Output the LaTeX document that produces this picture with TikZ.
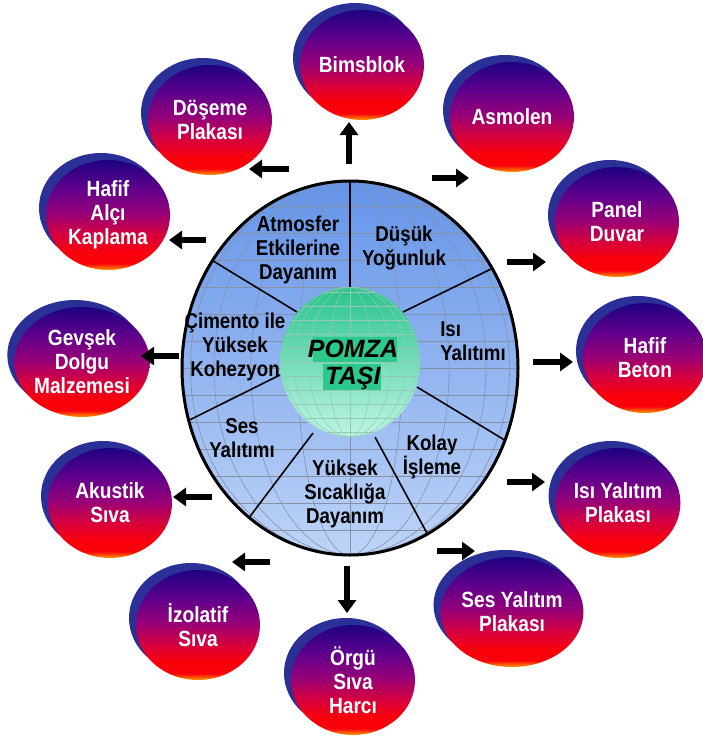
\documentclass[tikz,border=0pt]{standalone}
\usepackage{fontspec}
\setmainfont{Liberation Sans}
\newfontfamily\lblfont[FakeStretch=0.87]{Liberation Sans}
\usepackage{tikz}
\usetikzlibrary{positioning,shapes.geometric,shadows,arrows.meta}

\definecolor{discTop}{RGB}{100,148,232}
\definecolor{discBot}{RGB}{190,212,248}
\definecolor{gridGray}{RGB}{135,145,165}
\definecolor{coreTop}{RGB}{40,196,140}
\definecolor{coreMid}{RGB}{150,240,200}
\definecolor{coreBot}{RGB}{190,246,228}
\definecolor{coreBand}{RGB}{45,200,140}
\definecolor{coreGrid}{RGB}{150,200,180}
\definecolor{diskBack}{RGB}{42,48,150}
\definecolor{diskNavy}{RGB}{30,0,130}
\definecolor{diskViolet}{RGB}{95,0,140}
\definecolor{diskPurple}{RGB}{150,0,120}
\definecolor{diskCrimson}{RGB}{215,0,60}
\definecolor{diskRed}{RGB}{250,0,10}
\definecolor{diskOrange}{RGB}{255,160,0}

\pgfdeclareverticalshading{diskshade}{100bp}{color(0bp)=(diskOrange); color(25bp)=(diskOrange);
  color(28bp)=(diskRed); color(33bp)=(diskRed); color(41bp)=(diskCrimson); color(51bp)=(diskPurple);
  color(62bp)=(diskViolet); color(75bp)=(diskNavy); color(100bp)=(diskNavy)}

\tikzset{
  disk/.style={ellipse, minimum width=124pt, minimum height=110pt, inner sep=0pt, shade, shading=diskshade,
    general shadow={fill=diskBack, shadow xshift=-7pt, shadow yshift=7pt},
    text=white, align=center, font=\lblfont\fontsize{22}{24}\selectfont\bfseries},
  disc/.style={ellipse, minimum width=336pt, minimum height=374pt, inner sep=0pt, outer sep=0pt,
    top color=discTop, bottom color=discBot},
  core/.style={ellipse, minimum width=140pt, minimum height=150pt, inner sep=0pt, outer sep=0pt,
    top color=coreTop, middle color=coreMid, bottom color=coreBot},
  sector/.style={align=center, font=\lblfont\fontsize{21.5}{24}\selectfont\bfseries},
  sepline/.style={line width=1.6pt},
  gridline/.style={gridGray, line width=0.6pt},
  bigarrow/.style={line width=6pt, -{Triangle[width=18pt,length=13pt]}},
}

\begin{document}
\begin{tikzpicture}[x=1pt,y=-1pt]
  \useasboundingbox (0,0) rectangle (703,736);

  % buyuk elips
  \node[disc] (disc) at (350,368) {};
  \begin{scope}
    \clip (350,368) ellipse [x radius=168pt, y radius=187pt];
    \foreach \k in {0.31,0.59,0.81,0.95}
      \draw[gridline] (350,368) ellipse [x radius=\k*168pt, y radius=187pt];
    \draw[gridline] (350,180) -- (350,556);
    \foreach \i in {-6,...,6}
      \draw[gridline] (180,368+\i*27) -- (520,368+\i*27);
  \end{scope}

  % dilimler
  \draw[sepline] (350,287) -- (disc.90);
  \draw[sepline] (403,312) -- (disc.35);
  \draw[sepline] (417,387) -- (disc.-25);
  \draw[sepline] (375,437) -- (disc.-65);
  \draw[sepline] (313,433) -- (disc.-124);
  \draw[sepline] (280,375) -- (disc.-162);
  \draw[sepline] (297,312) -- (disc.142);

  \node[sector] (atmosfer) at (298,250) {Atmosfer\\Etkilerine\\Dayanım};
  \node[sector] (dusuk) at (404,248) {Düşük\\Yoğunluk};
  \node[sector, align=left] (isi) at (473,341) {Isı\\Yalıtımı};
  \node[sector] (kolay) at (432,457) {Kolay\\İşleme};
  \node[sector] (sicak) at (345,494) {Yüksek\\Sıcaklığa\\Dayanım};
  \node[sector] (ses) at (242,438) {Ses\\Yalıtımı};
  \node[sector] (cimento) at (235,347) {Çimento ile\\Yüksek\\Kohezyon};

  % orta kure
  \node[core] (core) at (350,362) {};
  \begin{scope}
    \clip (350,362) ellipse [x radius=70pt, y radius=75pt];
    \foreach \k in {0.31,0.59,0.81,0.95}
      \draw[coreGrid, line width=0.5pt] (350,362) ellipse [x radius=\k*70pt, y radius=75pt];
    \draw[coreGrid, line width=0.5pt] (350,287) -- (350,437);
    \foreach \i in {-5,...,5}
      \draw[coreGrid, line width=0.5pt] (280,362+\i*14) -- (420,362+\i*14);
  \end{scope}
  \fill[coreBand] (313,337) rectangle (397,362);
  \fill[coreBand] (323,364) rectangle (381,390);
  \node[align=center, font=\fontsize{25}{27}\selectfont\bfseries\itshape] (pomza) at (353,365) {POMZA\\TAŞI};

  \draw[line width=3pt] (disc.center) ellipse [x radius=168pt, y radius=187pt];

  % diskler
  \node[disk] (bims) at (362,65) {Bimsblok};
  \node[disk] (asmolen) at (512,117) {Asmolen};
  \node[disk] (panel) at (617,222) {Panel\\Duvar};
  \node[disk] (beton) at (645,358) {Hafif\\Beton};
  \node[disk] (isiplaka) at (618,503) {Isı Yalıtım\\Plakası};
  \node[disk] (sesplaka) at (512,612) {Ses Yalıtım\\Plakası};
  \node[disk] (orgu) at (353,680) {Örgü\\Sıva\\Harcı};
  \node[disk] (izolatif) at (198,625) {İzolatif\\Sıva};
  \node[disk] (akustik) at (110,503) {Akustik\\Sıva};
  \node[disk] (gevsek) at (82,362) {Gevşek\\Dolgu\\Malzemesi};
  \node[disk] (alci) at (108,215) {Hafif\\Alçı\\Kaplama};
  \node[disk] (doseme) at (210,120) {Döşeme\\Plakası};

  % oklar
  \coordinate (bims-s) at (349,164);    \coordinate (bims-e) at (349,122);
  \coordinate (asmolen-s) at (432,178); \coordinate (asmolen-e) at (469,178);
  \coordinate (panel-s) at (507,262);   \coordinate (panel-e) at (546,262);
  \coordinate (beton-s) at (533,362);   \coordinate (beton-e) at (573,362);
  \coordinate (isi-s) at (507,482);     \coordinate (isi-e) at (545,482);
  \coordinate (ses-s) at (437,551);     \coordinate (ses-e) at (475,551);
  \coordinate (orgu-s) at (347,566);    \coordinate (orgu-e) at (347,613);
  \coordinate (izo-s) at (270,562);     \coordinate (izo-e) at (232,562);
  \coordinate (aku-s) at (212,497);     \coordinate (aku-e) at (173,497);
  \coordinate (gev-s) at (179,356);     \coordinate (gev-e) at (141,356);
  \coordinate (alci-s) at (206,240);    \coordinate (alci-e) at (169,240);
  \coordinate (dos-s) at (289,169);     \coordinate (dos-e) at (249,169);

  \draw[bigarrow] (bims-s) -- (bims-e);
  \draw[bigarrow] (asmolen-s) -- (asmolen-e);
  \draw[bigarrow] (panel-s) -- (panel-e);
  \draw[bigarrow] (beton-s) -- (beton-e);
  \draw[bigarrow] (isi-s) -- (isi-e);
  \draw[bigarrow] (ses-s) -- (ses-e);
  \draw[bigarrow] (orgu-s) -- (orgu-e);
  \draw[bigarrow] (izo-s) -- (izo-e);
  \draw[bigarrow] (aku-s) -- (aku-e);
  \draw[bigarrow] (gev-s) -- (gev-e);
  \draw[bigarrow] (alci-s) -- (alci-e);
  \draw[bigarrow] (dos-s) -- (dos-e);
\end{tikzpicture}
\end{document}
